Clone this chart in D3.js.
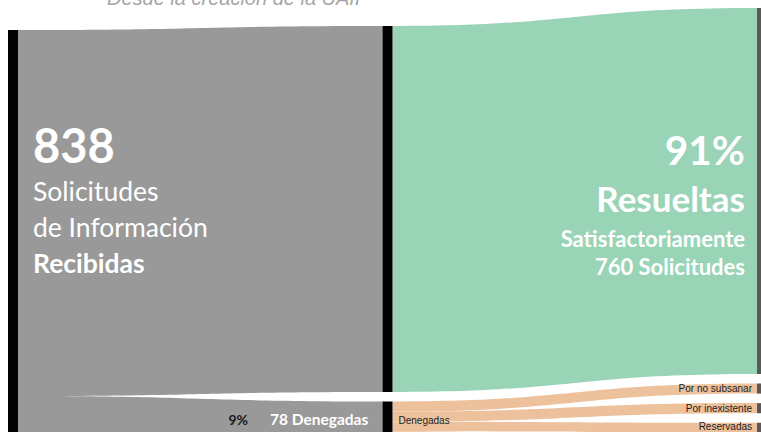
<!DOCTYPE html>
<html>
<head>
<meta charset="utf-8">
<script src="https://cdn.jsdelivr.net/npm/d3@7"></script>
<style>
  html, body { margin: 0; padding: 0; background: #fff; overflow: hidden; }
  svg { display: block; }
</style>
</head>
<body>
<svg id="chart" width="761" height="432"></svg>
<script>
// ---------- DATA ----------
const title = "Desde la creación de la UAIP";
const totalReceived = 838;
const stageNames = ["Recibidas", "Resueltas", "Denegadas", "Satisfactoriamente"];
const stageValues = [838, 760, 78, 760];
const deniedReasons = ["Por no subsanar", "Por inexistente", "Reservadas", "Confidenciales"];
const deniedValues = [21, 21, 20, 16];
const resolvedPct = "91%";
const deniedPct = "9%";

// ---------- LAYOUT ----------
const W = 761, H = 432;
const svg = d3.select("#chart");
const nodeW = 10;
const gap = 9.5;
const colX = d3.scaleLinear().domain([0, 2]).range([8, 757]);
const k = d3.scaleLinear().domain([0, 760]).range([0, 366]);
const colTop = [30, 26, 8];

const colors = {
  received: "#999999",
  resolved: "#99d4b7",
  denied: "#ecc19c",
  nodeDark: "#000000",
  nodeRight: "#595959"
};

const nodes = [];
function addNode(name, value, col, y0, color, label) {
  const n = { name, value, col, x0: colX(col), x1: colX(col) + nodeW, y0, y1: y0 + k(value), color, label, outY: y0, inY: y0 };
  nodes.push(n);
  return n;
}
const nRec = addNode(stageNames[0], stageValues[0], 0, colTop[0], colors.nodeDark, false);
const nRes = addNode(stageNames[1], stageValues[1], 1, colTop[1], colors.nodeDark, false);
const nDen = addNode(stageNames[2], stageValues[2], 1, nRes.y1 + gap, colors.nodeDark, true);
const nSat = addNode(stageNames[3], stageValues[3], 2, colTop[2], colors.nodeRight, false);
let yy = nSat.y1 + gap;
const reasonNodes = deniedReasons.map((r, i) => {
  const n = addNode(r, deniedValues[i], 2, yy, colors.nodeRight, true);
  yy = n.y1 + gap;
  return n;
});

const links = [];
function addLink(s, t, value, color) {
  const h = k(value);
  const l = { s, t, value, color, sy0: s.outY, sy1: s.outY + h, ty0: t.inY, ty1: t.inY + h };
  s.outY += h; t.inY += h;
  links.push(l);
}
addLink(nRec, nRes, stageValues[1], colors.received);
addLink(nRec, nDen, stageValues[2], colors.received);
addLink(nRes, nSat, stageValues[3], colors.resolved);
reasonNodes.forEach((n, i) => addLink(nDen, n, deniedValues[i], colors.denied));

function linkPath(l) {
  const x0 = l.s.x1, x1 = l.t.x0, xm = (x0 + x1) / 2;
  const p = d3.path();
  p.moveTo(x0, l.sy0);
  p.bezierCurveTo(xm, l.sy0, xm, l.ty0, x1, l.ty0);
  p.lineTo(x1, l.ty1);
  p.bezierCurveTo(xm, l.ty1, xm, l.sy1, x0, l.sy1);
  p.closePath();
  return p.toString();
}

svg.append("g").selectAll("path").data(links).join("path")
  .attr("d", linkPath)
  .attr("fill", d => d.color);

svg.append("g").selectAll("rect").data(nodes).join("rect")
  .attr("x", d => d.x0).attr("y", d => d.y0)
  .attr("width", nodeW).attr("height", d => d.y1 - d.y0)
  .attr("fill", d => d.color);

// labels only for nodes that are visible in the frame
svg.append("g").selectAll("text").data(nodes.filter(n => n.label && n.y0 < H - 4)).join("text")
  .attr("x", d => d.col === 2 ? d.x0 - 5 : d.x1 + 6)
  .attr("y", d => Math.min((d.y0 + d.y1) / 2, H - 6))
  .attr("dy", "0.35em")
  .attr("text-anchor", d => d.col === 2 ? "end" : "start")
  .attr("font-family", "Liberation Sans, Arial, sans-serif")
  .attr("font-size", 10)
  .attr("fill", "#222")
  .text(d => d.name);

svg.append("text")
  .attr("x", 107).attr("y", 5)
  .attr("font-family", "Liberation Sans, Arial, sans-serif")
  .attr("font-style", "italic")
  .attr("font-size", 20)
  .attr("fill", "#a6a6a6")
  .text(title);

const F = "Lato, 'Open Sans', sans-serif";
const leftLines = [
  { t: String(totalReceived), size: 47, w: 700, y: 163 },
  { t: "Solicitudes", size: 26.5, w: 400, y: 201 },
  { t: "de Información", size: 26.5, w: 400, y: 237 },
  { t: stageNames[0], size: 26.5, w: 700, y: 273 }
];
svg.append("g").selectAll("text").data(leftLines).join("text")
  .attr("x", 33).attr("y", d => d.y)
  .attr("font-family", F).attr("font-size", d => d.size).attr("font-weight", d => d.w)
  .attr("fill", "#fff").text(d => d.t);

const rightLines = [
  { t: resolvedPct, size: 40.5, y: 165 },
  { t: stageNames[1], size: 35, y: 212 },
  { t: stageNames[3], size: 22, y: 247 },
  { t: stageValues[1] + " Solicitudes", size: 22, y: 275 }
];
svg.append("g").selectAll("text").data(rightLines).join("text")
  .attr("x", 745).attr("y", d => d.y).attr("text-anchor", "end")
  .attr("font-family", F).attr("font-size", d => d.size).attr("font-weight", 700)
  .attr("fill", "#fff").text(d => d.t);

svg.append("text")
  .attr("x", 248).attr("y", 425).attr("text-anchor", "end")
  .attr("font-family", F).attr("font-size", 14).attr("font-weight", 700)
  .attr("fill", "#1a1a1a").text(deniedPct);
svg.append("text")
  .attr("x", 270).attr("y", 425)
  .attr("font-family", F).attr("font-size", 15.5).attr("font-weight", 700)
  .attr("fill", "#fff").text(stageValues[2] + " " + stageNames[2]);
</script>
</body>
</html>
